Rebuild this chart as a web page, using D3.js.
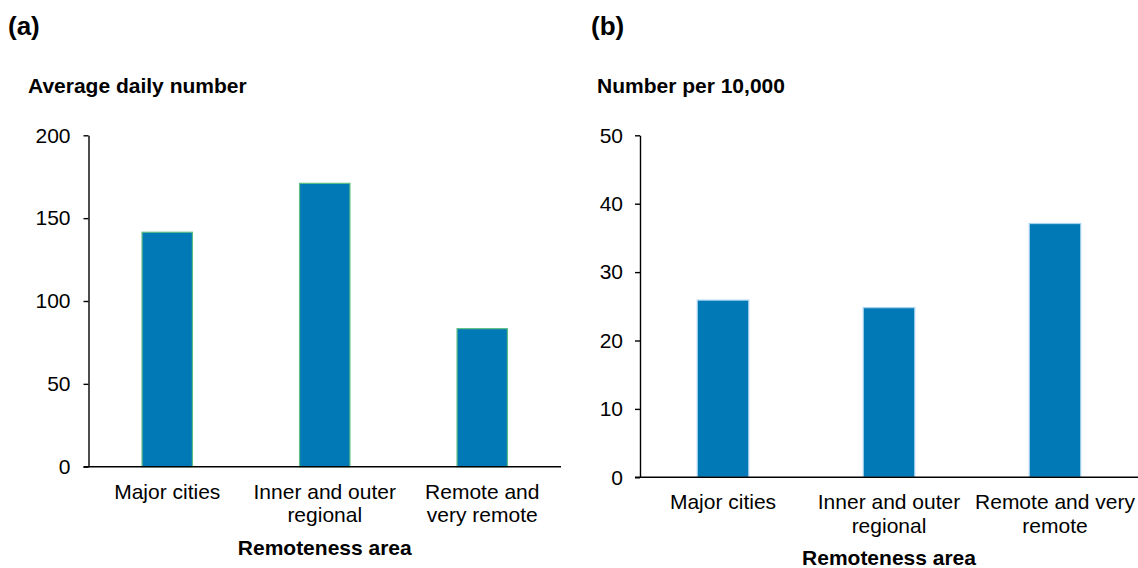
<!DOCTYPE html>
<html>
<head>
<meta charset="utf-8">
<script src="https://cdn.jsdelivr.net/npm/d3@7"></script>
<style>
  html, body { margin: 0; padding: 0; background: #fff; }
  svg { display: block; font-family: Arial, "Liberation Sans", sans-serif; }
</style>
</head>
<body>
<svg id="chart" width="1138" height="568"></svg>
<script>
// ---- data ----
const categories = ["Major cities", "Inner and outer regional", "Remote and very remote"];
const labelLinesA = [["Major cities"], ["Inner and outer", "regional"], ["Remote and", "very remote"]];
const labelLinesB = [["Major cities"], ["Inner and outer", "regional"], ["Remote and very", "remote"]];
const valuesA = [141.5, 171, 83.3];   // Average daily number
const valuesB = [25.9, 24.8, 37.1];   // Number per 10,000
const ticksA = [0, 50, 100, 150, 200];
const ticksB = [0, 10, 20, 30, 40, 50];

const svg = d3.select("#chart");
const FILL = "#0079b6";

function panel(opt) {
  const g = svg.append("g");
  const x = d3.scaleBand().domain(categories)
    .range([opt.x0, opt.x1]).paddingInner(opt.pad).paddingOuter(opt.pad / 2);
  const y = d3.scaleLinear().domain(opt.domain).range([opt.y0, opt.yTop]);

  // bars
  g.selectAll("rect.bar").data(opt.values).join("rect")
    .attr("class", "bar")
    .attr("x", (d, i) => x(categories[i]))
    .attr("width", x.bandwidth())
    .attr("y", d => y(d))
    .attr("height", d => y(0) - y(d))
    .attr("fill", FILL)
    .attr("stroke", opt.stroke)
    .attr("stroke-width", 1.2);

  // y axis
  const ya = g.append("g").attr("transform", `translate(${opt.x0},0)`)
    .call(d3.axisLeft(y).tickValues(opt.ticks).tickSize(5).tickSizeOuter(0).tickPadding(opt.tickPad));
  ya.select(".domain").attr("stroke", "#000").attr("stroke-width", 1.4);
  ya.selectAll(".tick line").attr("stroke", "#000").attr("stroke-width", 1.4);
  ya.selectAll(".tick text").attr("font-size", 21).attr("fill", "#000")
    .style("font-family", "Arial, 'Liberation Sans', sans-serif");

  // x axis
  const xa = g.append("g").attr("transform", `translate(0,${opt.y0})`)
    .call(d3.axisBottom(x).tickSize(0).tickSizeOuter(0).tickFormat(""));
  xa.select(".domain").attr("stroke", "#000").attr("stroke-width", 1.6)
    .attr("d", `M${opt.x0 - 5},0H${opt.x1}`);
  xa.selectAll(".tick text").remove();

  // category labels
  categories.forEach((c, i) => {
    const t = g.append("text")
      .attr("x", x(c) + x.bandwidth() / 2)
      .attr("y", opt.y0 + 32)
      .attr("text-anchor", "middle")
      .attr("font-size", 21).attr("fill", "#000");
    opt.lines[i].forEach((ln, k) => {
      t.append("tspan").attr("x", x(c) + x.bandwidth() / 2)
        .attr("dy", k === 0 ? 0 : 23.5).text(ln);
    });
  });

  // axis title
  g.append("text")
    .attr("x", (opt.x0 + opt.x1) / 2)
    .attr("y", opt.y0 + 88)
    .attr("text-anchor", "middle")
    .attr("font-size", 21).attr("font-weight", "bold").attr("fill", "#000")
    .text("Remoteness area");

  // panel letter and y title
  g.append("text").attr("x", opt.letterX).attr("y", 35)
    .attr("font-size", 26).attr("font-weight", "bold").attr("fill", "#000")
    .text(opt.letter);
  g.append("text").attr("x", opt.titleX).attr("y", 93)
    .attr("font-size", 21).attr("font-weight", "bold").attr("fill", "#000")
    .text(opt.ytitle);
}

panel({
  values: valuesA, ticks: ticksA, domain: [0, 200], lines: labelLinesA,
  x0: 88.5, x1: 561, y0: 466.7, yTop: 135.3, pad: 0.68, tickPad: 13,
  stroke: "#5dbd84", letter: "(a)", letterX: 8, titleX: 28,
  ytitle: "Average daily number"
});
panel({
  values: valuesB, ticks: ticksB, domain: [0, 50], lines: labelLinesB,
  x0: 640, x1: 1138, y0: 477.3, yTop: 135.3, pad: 0.69, tickPad: 12,
  stroke: "#a6d1ef", letter: "(b)", letterX: 591, titleX: 597,
  ytitle: "Number per 10,000"
});
</script>
</body>
</html>
